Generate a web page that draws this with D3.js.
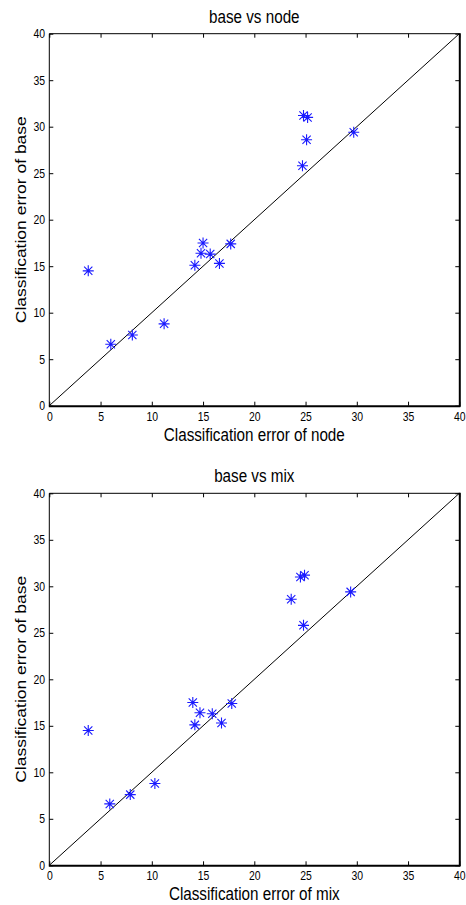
<!DOCTYPE html>
<html>
<head>
<meta charset="utf-8">
<script src="https://cdn.jsdelivr.net/npm/d3@7/dist/d3.min.js"></script>
<style>
  html, body { margin: 0; padding: 0; background: #fff; }
  svg { display: block; }
  text { font-family: "Liberation Sans", Arial, Helvetica, sans-serif; fill: #000; }
</style>
</head>
<body>
<script>
// Classification error (%) for each dataset, per method
const baseErr = [31.2, 31.0, 28.6, 25.8, 29.4, 14.5, 6.6, 7.6, 8.8, 15.1, 17.5, 16.4, 16.3, 15.3, 17.4];
const nodeErr = [24.8, 25.2, 25.1, 24.7, 29.7, 3.8, 6.0, 8.1, 11.2, 14.2, 15.0, 14.8, 15.7, 16.6, 17.7];
const mixErr  = [24.9, 24.5, 23.6, 24.8, 29.4, 3.8, 5.9, 7.9, 10.3, 14.2, 14.0, 14.7, 15.9, 16.8, 17.8];

const axisDomain = [0, 40];
const tickValues = [0, 5, 10, 15, 20, 25, 30, 35, 40];
const panelTitles = ["base vs node", "base vs mix"];
const xLabels = ["Classification error of node", "Classification error of mix"];
const yLabel = "Classification error of base";

const W = 466, H = 905;
const SX = 0.87; // horizontal glyph compression of the figure's lettering

const svg = d3.select("body").append("svg")
  .attr("width", W).attr("height", H);
svg.append("rect").attr("width", W).attr("height", H).attr("fill", "#fff");

const left = 49.3, right = 459.3;
const panelTops = [33.7, 493.3];
const panelH = 372;

function addText(g, x, y, str, size, anchor, rotate) {
  const t = g.append("text")
    .attr("transform", `translate(${x},${y})` + (rotate ? ` rotate(${rotate})` : "") + (rotate ? "" : ` scale(${SX},1)`))
    .attr("text-anchor", anchor)
    .attr("font-size", size)
    .text(str);
  return t;
}

function asteriskPath(r) {
  const d = r * 0.75;
  return `M${-r},0L${r},0M0,${-r}L0,${r}M${-d},${-d}L${d},${d}M${-d},${d}L${d},${-d}`;
}

function drawPanel(i, xVals) {
  const top = panelTops[i], bottom = top + panelH;
  const x = d3.scaleLinear().domain(axisDomain).range([left, right]);
  const y = d3.scaleLinear().domain(axisDomain).range([bottom, top]);
  const g = svg.append("g");

  // ticks on all four sides, pointing inward
  const ax = g.append("g").attr("transform", `translate(0,${bottom})`)
    .call(d3.axisBottom(x).tickValues(tickValues).tickSize(-4).tickSizeOuter(0).tickPadding(6.5).tickFormat(d3.format("d")));
  const ay = g.append("g").attr("transform", `translate(${left},0)`)
    .call(d3.axisLeft(y).tickValues(tickValues).tickSize(-4).tickSizeOuter(0).tickPadding(4.3).tickFormat(d3.format("d")));
  g.append("g").attr("transform", `translate(0,${top})`)
    .call(d3.axisTop(x).tickValues(tickValues).tickSize(-4).tickSizeOuter(0).tickFormat(""));
  g.append("g").attr("transform", `translate(${right},0)`)
    .call(d3.axisRight(y).tickValues(tickValues).tickSize(-4).tickSizeOuter(0).tickFormat(""));

  g.selectAll(".domain").remove();
  g.selectAll(".tick line").attr("stroke", "#000").attr("stroke-width", 1);
  g.selectAll(".tick text")
    .attr("font-size", 12)
    .attr("font-family", "'Liberation Sans', Arial, sans-serif")
    .attr("fill", "#000");
  // compress tick labels horizontally about the tick origin
  ax.selectAll(".tick text").attr("transform", `scale(${SX},1)`);
  ay.selectAll(".tick text").each(function () {
    const t = d3.select(this);
    t.attr("x", +t.attr("x") / SX).attr("transform", `scale(${SX},1)`);
  });

  // axes box
  g.append("line").attr("x1", left).attr("x2", right).attr("y1", top).attr("y2", top)
    .attr("stroke", "#000").attr("stroke-width", 1);
  g.append("line").attr("x1", left).attr("x2", left).attr("y1", top).attr("y2", bottom)
    .attr("stroke", "#000").attr("stroke-width", 1);
  g.append("line").attr("x1", left - 0.5).attr("x2", right + 1).attr("y1", bottom + 0.5).attr("y2", bottom + 0.5)
    .attr("stroke", "#000").attr("stroke-width", 2);
  g.append("line").attr("x1", right + 0.5).attr("x2", right + 0.5).attr("y1", top - 0.5).attr("y2", bottom + 1)
    .attr("stroke", "#000").attr("stroke-width", 2);

  // diagonal y = x reference line
  g.append("line")
    .attr("x1", x(axisDomain[0])).attr("y1", y(axisDomain[0]))
    .attr("x2", x(axisDomain[1])).attr("y2", y(axisDomain[1]))
    .attr("stroke", "#000").attr("stroke-width", 1);

  // asterisk markers
  g.selectAll("path.pt").data(xVals.map((v, k) => [v, baseErr[k]]))
    .join("path").attr("class", "pt")
    .attr("transform", d => `translate(${x(d[0])},${y(d[1])})`)
    .attr("d", asteriskPath(5.5))
    .attr("fill", "none")
    .attr("stroke", "#1a1aff")
    .attr("stroke-width", 1.1);

  // title and axis labels
  addText(g, (left + right) / 2, top - 11, panelTitles[i], 17.5, "middle");
  addText(g, (left + right) / 2, bottom + 35, xLabels[i], 17.5, "middle");
  const lab = g.append("text")
    .attr("transform", `translate(26,${(top + bottom) / 2}) scale(${SX},1) rotate(-90)`)
    .attr("text-anchor", "middle")
    .attr("font-size", 17.5)
    .text(yLabel);
}

drawPanel(0, nodeErr);
drawPanel(1, mixErr);
</script>
</body>
</html>
